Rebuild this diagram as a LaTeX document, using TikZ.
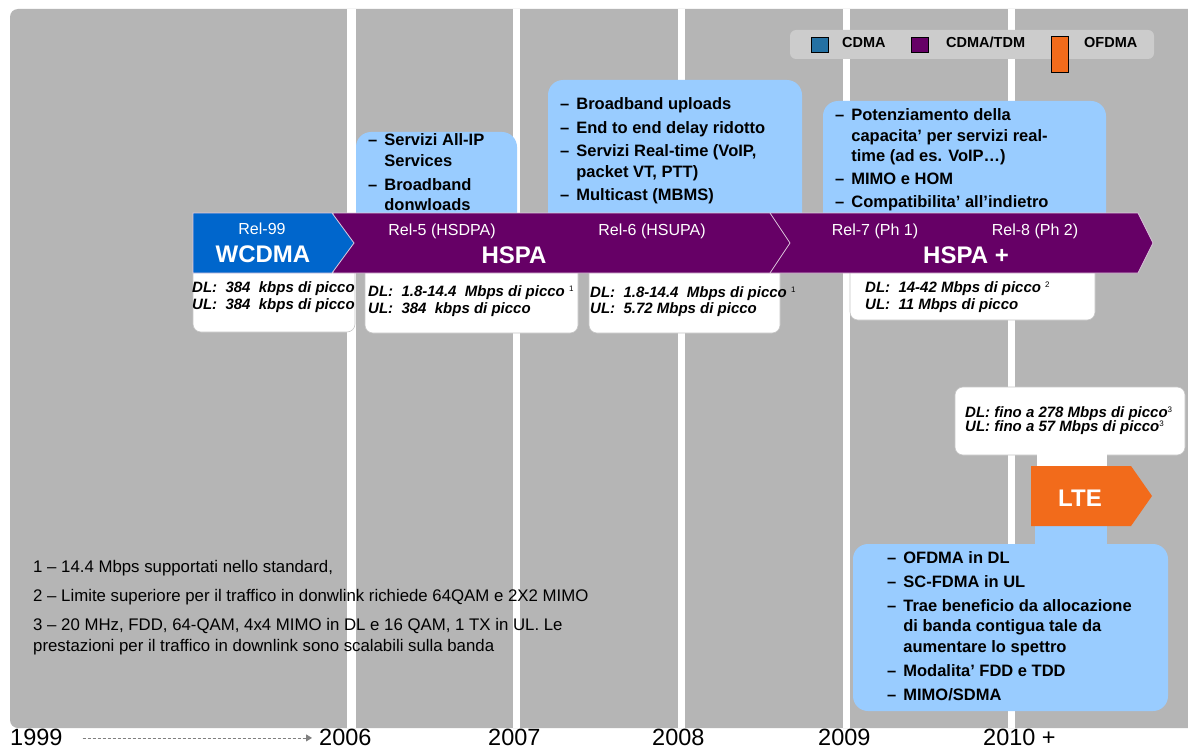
\documentclass[tikz,border=0pt]{standalone}
\usepackage{fontspec}
\setmainfont{Liberation Sans}
\usetikzlibrary{arrows.meta}
\definecolor{bggray}{HTML}{B5B5B5}
\definecolor{lblue}{HTML}{99CCFF}
\definecolor{wblue}{HTML}{0066CC}
\definecolor{hpurple}{HTML}{660066}
\definecolor{lorange}{HTML}{F26B1B}
\definecolor{leggray}{HTML}{CCCCCC}
\definecolor{legblue}{HTML}{2471A3}
\definecolor{edgec}{HTML}{DDC8DD}
\newcommand{\blist}[1]{\begin{tabular}[t]{@{}l@{\hspace{7pt}}l@{}}#1\end{tabular}}
\newcommand{\dlist}[1]{\begin{tabular}[t]{@{}l@{}}#1\end{tabular}}
\newcommand{\sups}[1]{\raisebox{5pt}{\normalfont\fontsize{8}{8}\selectfont #1}}
\begin{document}
\begin{tikzpicture}[x=1pt,y=-1pt,
  notebox/.style={fill=lblue, rounded corners=15pt},
  databox/.style={fill=white, draw=gray!45, line width=0.6pt, rounded corners=8pt},
  bullets/.style={anchor=base west, inner sep=0pt, font=\bfseries\fontsize{16.5}{20.5}\selectfont},
  rates/.style={anchor=base west, inner sep=0pt, font=\bfseries\itshape\fontsize{15}{17.5}\selectfont},
  rel/.style={anchor=base, inner sep=0pt, text=white, font=\fontsize{16}{18}\selectfont},
  tech/.style={anchor=base, inner sep=0pt, text=white, font=\bfseries\fontsize{24}{26}\selectfont},
  year/.style={anchor=base west, inner sep=0pt, font=\fontsize{23.5}{26}\selectfont},
  foot/.style={anchor=base west, inner sep=0pt, font=\fontsize{16.8}{20}\selectfont},
  legtext/.style={anchor=base west, inner sep=0pt, font=\bfseries\fontsize{14.5}{16}\selectfont},
  legsq/.style={draw=black, line width=0.6pt},
  arrowedge/.style={draw=edgec, line width=0.8pt}
]
\useasboundingbox (0,0) rectangle (1188,749);
\fill[white] (0,0) rectangle (1188,749);
% background
\fill[bggray, rounded corners=8pt] (10,9) rectangle (1210,728);
% year separators
\fill[white] (347,9) rectangle (356,728);
\fill[white] (513,9) rectangle (520,728);
\fill[white] (678,9) rectangle (685,728);
\fill[white] (843,9) rectangle (850,728);
\fill[white] (1008,9) rectangle (1015,728);
% note boxes
\fill[notebox] (356,132) rectangle (517,240);
\fill[notebox] (548,80) rectangle (802,240);
\fill[notebox] (823,101) rectangle (1106,240);
\fill[notebox] (853,544) rectangle (1168,711);
\fill[lblue] (1035,520) rectangle (1107,550);
% data boxes
\draw[databox] (193,255) rectangle (355,332);
\draw[databox] (365,255) rectangle (578,333);
\draw[databox] (589,255) rectangle (780,333);
\draw[databox] (850,255) rectangle (1095,320);
\draw[databox] (955,387) rectangle (1185,455);
\fill[white] (1037,450) rectangle (1107,470);
% arrows
\draw[arrowedge, fill=hpurple] (333,213) -- (1138,213) -- (1153,243) -- (1138,273) -- (333,273) -- cycle;
\draw[arrowedge, fill=wblue] (193,213) -- (332,213) -- (354,243) -- (332,273) -- (193,273) -- cycle;
\draw[arrowedge] (770,213) -- (790,243) -- (770,273);
\fill[lorange] (1031,466) -- (1131,466) -- (1152,496) -- (1131,526) -- (1031,526) -- cycle;
% arrow labels
\node[rel] (r99) at (262,234) {Rel-99};
\node[tech] (wcdma) at (263,262) {WCDMA};
\node[rel] (r5) at (442,235) {Rel-5 (HSDPA)};
\node[tech] (hspa) at (514,263) {HSPA};
\node[rel] (r6) at (652,235) {Rel-6 (HSUPA)};
\node[rel] (r7) at (875,235) {Rel-7 (Ph 1)};
\node[rel] (r8) at (1035,235) {Rel-8 (Ph 2)};
\node[tech] (hspap) at (966,263) {HSPA +};
\node[tech] (lte) at (1080,506) {LTE};
% bullet lists
\node[bullets] (n1) at (368,146) {\blist{--& Servizi All-IP\\ & Services\\[3.5pt] --& Broadband\\ & donwloads}};
\node[bullets] (n2) at (560,110) {\blist{--& Broadband uploads\\[3pt] --& End to end delay ridotto\\[3pt] --& Servizi Real-time (VoIP,\\ & packet VT, PTT)\\[3pt] --& Multicast (MBMS)}};
\node[bullets] (n3) at (835,121) {\blist{--& Potenziamento della\\ & capacita’ per servizi real-\\ & time (ad es. VoIP…)\\[2.5pt] --& MIMO e HOM\\[2.5pt] --& Compatibilita’ all’indietro}};
\node[bullets] (n4) at (887,563) {\blist{--& OFDMA in DL\\[3.5pt] --& SC-FDMA in UL\\[3.5pt] --& Trae beneficio da allocazione\\ & di banda contigua tale da\\ & aumentare lo spettro\\[3.5pt] --& Modalita’ FDD e TDD\\[3.5pt] --& MIMO/SDMA}};
% rates
\node[rates] (d1) at (192,292) {\dlist{DL:\ \ 384\ \ kbps di picco\\ UL:\ \ 384\ \ kbps di picco}};
\node[rates, font=\bfseries\itshape\fontsize{15}{17}\selectfont] (d2) at (368,296) {\dlist{DL:\ \ 1.8-14.4\ \ Mbps di picco \sups{1}\\ UL:\ \ 384\ \ kbps di picco}};
\node[rates, font=\bfseries\itshape\fontsize{15}{16}\selectfont] (d3) at (590,297) {\dlist{DL:\ \ 1.8-14.4\ \ Mbps di picco \sups{1}\\ UL:\ \ 5.72 Mbps di picco}};
\node[rates, font=\bfseries\itshape\fontsize{15}{17}\selectfont] (d4) at (865,292) {\dlist{DL:\ \ 14-42 Mbps di picco \sups{2}\\ UL:\ \ 11 Mbps di picco}};
\node[rates, font=\bfseries\itshape\fontsize{15}{13}\selectfont] (d5) at (965,417) {\dlist{DL: fino a 278 Mbps di picco\sups{3}\\ UL: fino a 57 Mbps di picco\sups{3}}};
% legend
\fill[leggray, rounded corners=6pt] (790,30) rectangle (1154,59);
\draw[legsq, fill=legblue] (811,37) rectangle (828,52);
\node[legtext] (lg1) at (842,48) {CDMA};
\draw[legsq, fill=hpurple] (911,37) rectangle (928,52);
\node[legtext] (lg2) at (946,48) {CDMA/TDM};
\draw[legsq, fill=lorange] (1051,36) rectangle (1068,72);
\node[legtext] (lg3) at (1084,48) {OFDMA};
% footnotes
\node[foot] (f1) at (33,572) {1 -- 14.4 Mbps supportati nello standard,};
\node[foot] (f2) at (33,601) {2 -- Limite superiore per il traffico in donwlink richiede 64QAM e 2X2 MIMO};
\node[foot] (f3) at (33,630) {3 -- 20 MHz, FDD, 64-QAM, 4x4 MIMO in DL e 16 QAM, 1 TX in UL. Le};
\node[foot] (f4) at (33,651) {prestazioni per il traffico in downlink sono scalabili sulla banda};
% years
\node[year] (y1999) at (10,745) {1999};
\node[year] (y2006) at (319,745) {2006};
\node[year] (y2007) at (488,745) {2007};
\node[year] (y2008) at (652,745) {2008};
\node[year] (y2009) at (818,745) {2009};
\node[year] (y2010) at (983,745) {2010 +};
\draw[gray, line width=0.8pt, dash pattern=on 3pt off 2pt, -{Triangle[length=6pt,width=7pt]}] ([xshift=20pt,yshift=-1pt]y1999.east) -- ([xshift=-7pt,yshift=-1pt]y2006.west);
\end{tikzpicture}
\end{document}
